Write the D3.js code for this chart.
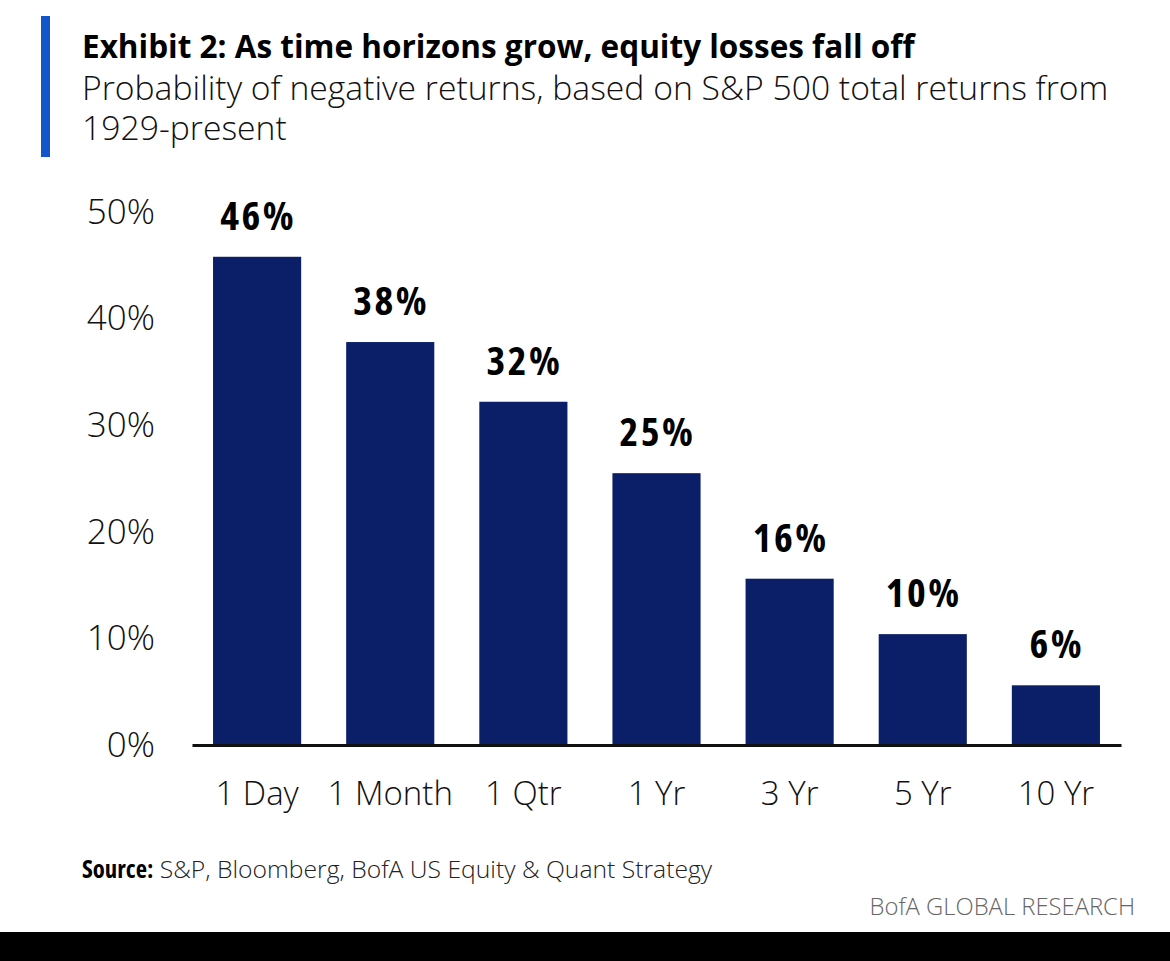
<!DOCTYPE html>
<html>
<head>
<meta charset="utf-8">
<script src="https://cdn.jsdelivr.net/npm/d3@7"></script>
<style>
  body { margin: 0; background: #fff; }
  svg text { font-family: "Open Sans", "Noto Sans", sans-serif; }
</style>
</head>
<body>
<div id="chart"></div>
<script>
// chart data
let horizons = ["1 Day", "1 Month", "1 Qtr", "1 Yr", "3 Yr", "5 Yr", "10 Yr"];
let negProb = [45.8, 37.8, 32.2, 25.5, 15.6, 10.4, 5.6];
let barLabels = ["46%", "38%", "32%", "25%", "16%", "10%", "6%"];
let yTicks = [0, 10, 20, 30, 40, 50];

let title = "Exhibit 2: As time horizons grow, equity losses fall off";
let subtitle = ["Probability of negative returns, based on S&P 500 total returns from", "1929-present"];
let sourceText = "S&P, Bloomberg, BofA US Equity & Quant Strategy";

let areaWidth = 1170;
let areaHeight = 961;

let svg = d3.select("#chart").append("svg")
  .attr("width", areaWidth)
  .attr("height", areaHeight);

svg.append("rect").attr("width", areaWidth).attr("height", areaHeight).attr("fill", "#fff");

// header
svg.append("rect")
  .attr("x", 41).attr("y", 16)
  .attr("width", 9).attr("height", 141)
  .attr("fill", "#1256cc");

svg.append("text")
  .attr("x", 82).attr("y", 58)
  .attr("font-size", "31.5px")
  .attr("font-weight", 700)
  .style("font-stretch", "100%")
  .attr("fill", "#000")
  .text(title);

svg.selectAll(".subtitle")
  .data(subtitle).enter().append("text")
  .attr("class", "subtitle")
  .attr("x", 82)
  .attr("y", (d, i) => 100 + i * 40)
  .attr("font-size", "33.7px")
  .attr("font-weight", 300)
  .style("font-stretch", "100%")
  .attr("fill", "#111")
  .text(d => d);

// scales
let x = d3.scaleBand()
  .domain(horizons)
  .range([192, 1121])
  .paddingInner(0.338)
  .paddingOuter(0.158);

let y = d3.scaleLinear()
  .domain([0, 50])
  .range([745, 212]);

let plotGroup = svg.append("g");

plotGroup.selectAll(".bar")
  .data(negProb).enter().append("rect")
  .attr("class", "bar")
  .attr("x", (d, i) => x(horizons[i]))
  .attr("y", d => y(d))
  .attr("width", x.bandwidth())
  .attr("height", d => y(0) - y(d))
  .attr("fill", "#0a1f68");

plotGroup.selectAll(".barLabel")
  .data(negProb).enter().append("text")
  .attr("class", "barLabel")
  .attr("x", (d, i) => x(horizons[i]) + x.bandwidth() / 2 + 1)
  .attr("y", d => y(d) - 27)
  .attr("text-anchor", "middle")
  .attr("font-size", "40px")
  .attr("font-weight", 700)
  .attr("letter-spacing", "2.5px")
  .style("font-stretch", "75%")
  .attr("fill", "#000")
  .text((d, i) => barLabels[i]);

// y axis (labels only)
let leftAx = d3.axisLeft(y)
  .tickValues(yTicks)
  .tickFormat(d => d + "%")
  .tickSize(0)
  .tickPadding(0);

let yAx = plotGroup.append("g")
  .attr("transform", "translate(155,0)")
  .call(leftAx);
yAx.select(".domain").remove();
yAx.selectAll("text")
  .attr("font-size", "35px")
  .attr("font-weight", 300)
  .style("font-stretch", "100%")
  .attr("fill", "#111");

// x axis
let bottomAx = d3.axisBottom(x).tickSize(0).tickPadding(0).tickSizeOuter(0);
let xAx = plotGroup.append("g")
  .attr("transform", "translate(0,745)")
  .call(bottomAx);
xAx.select(".domain")
  .attr("stroke", "#111")
  .attr("stroke-width", 3);
xAx.selectAll("text")
  .attr("dy", null)
  .attr("y", 60)
  .attr("font-size", "33px")
  .attr("font-weight", 300)
  .style("font-stretch", "100%")
  .attr("fill", "#111");

// footer
let src = svg.append("text")
  .attr("x", 82).attr("y", 878)
  .attr("font-size", "24.7px")
  .style("font-stretch", "100%")
  .attr("fill", "#222");
src.append("tspan").attr("font-weight", 700).attr("fill", "#000")
  .style("font-stretch", "75%").text("Source:");
src.append("tspan").attr("font-weight", 300).text("  " + sourceText);

svg.append("text")
  .attr("x", 1135).attr("y", 915)
  .attr("text-anchor", "end")
  .attr("font-size", "23.8px")
  .attr("font-weight", 300)
  .style("font-stretch", "100%")
  .attr("fill", "#666")
  .text("BofA GLOBAL RESEARCH");

svg.append("rect")
  .attr("x", 0).attr("y", 932)
  .attr("width", areaWidth).attr("height", areaHeight - 932)
  .attr("fill", "#000");
</script>
</body>
</html>
